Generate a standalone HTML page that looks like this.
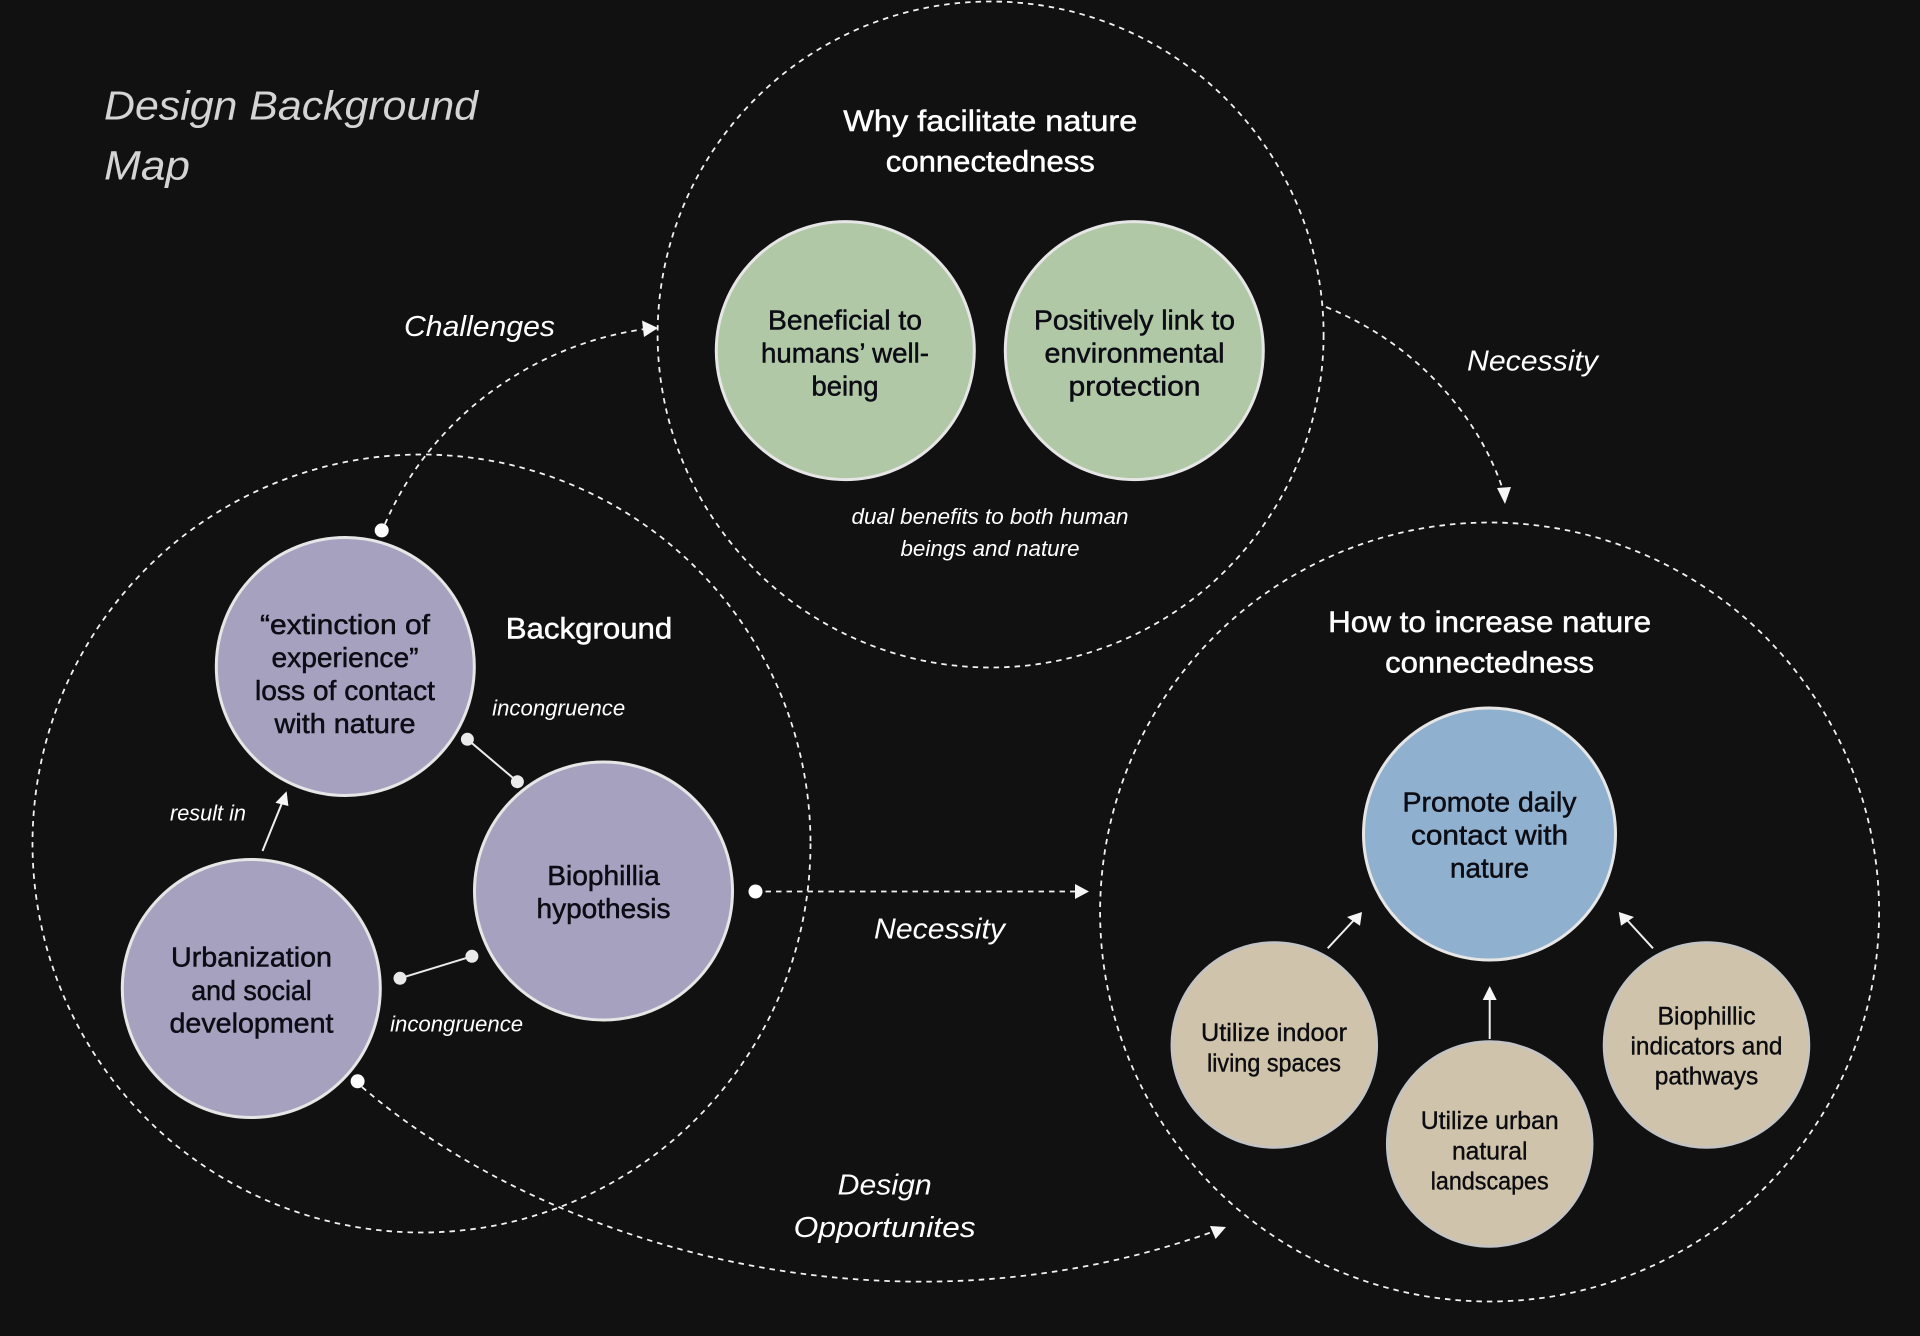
<!DOCTYPE html>
<html>
<head>
<meta charset="utf-8">
<style>
html,body{margin:0;padding:0;background:#111112;}
svg{display:block;}
text{font-family:"Liberation Sans",sans-serif;text-anchor:middle;}
.t{fill:#fff;font-size:30px;stroke:#fff;stroke-width:.5px;}
.n{fill:#0c0c14;font-size:28px;stroke:#0c0c14;stroke-width:.5px;}
.b{fill:#0c0c10;font-size:25px;stroke:#0c0c10;stroke-width:.4px;}
.i{fill:#fff;font-style:italic;font-size:29px;}
.s{fill:#fff;font-style:italic;font-size:22px;}
.h{fill:#d4d4d4;font-style:italic;font-size:41px;text-anchor:start;}
.d{fill:none;stroke:#f2f2f2;stroke-width:1.8;stroke-dasharray:5.5 5;}
.l{fill:none;stroke:#efefef;stroke-width:2;}
.a{fill:#f6f6f6;}
</style>
</head>
<body>
<svg width="1920" height="1336" viewBox="0 0 1920 1336" xmlns="http://www.w3.org/2000/svg">
<rect width="1920" height="1336" fill="#111112"/>

<circle class="d" cx="421.5" cy="843.5" r="389"/>
<circle class="d" cx="990.6" cy="334.5" r="333"/>
<circle class="d" cx="1489.6" cy="912" r="389.5"/>

<g stroke="#e6e6e6" stroke-width="3">
<circle cx="845.3" cy="350.6" r="129" fill="#b0c8a6"/>
<circle cx="1134.3" cy="350.6" r="129" fill="#b0c8a6"/>
<circle cx="345.3" cy="666.5" r="129" fill="#a6a1bf"/>
<circle cx="603.5" cy="891" r="129" fill="#a6a1bf"/>
<circle cx="251.3" cy="988.5" r="129" fill="#a6a1bf"/>
<circle cx="1489.5" cy="834" r="126" fill="#8fb0ce"/>
</g>
<g stroke="#c4c4c4" stroke-width="2.5">
<circle cx="1274.3" cy="1045" r="102.5" fill="#cfc4ab"/>
<circle cx="1489.7" cy="1144" r="102.5" fill="#cfc4ab"/>
<circle cx="1706.5" cy="1045" r="102.5" fill="#cfc4ab"/>
</g>

<!-- connectors -->
<path class="d" d="M385 524 C430 420 530 345 645 329"/>
<polygon class="a" points="658,328 642,320.5 644,337"/>
<circle cx="381.7" cy="530.4" r="7" fill="#fff"/>

<path class="d" d="M1326 307 C1420 345 1480 420 1503 490"/>
<polygon class="a" points="1505,504 1497,488 1511,487"/>

<path class="d" d="M755 891.5 L1076 891.5"/>
<polygon class="a" points="1089,891.5 1075,884 1075,899"/>
<circle cx="755.5" cy="891.5" r="7" fill="#fff"/>

<path class="d" d="M362 1087 C540 1240 880 1350 1212 1232"/>
<polygon class="a" points="1226,1227 1210,1226 1215.6,1239"/>
<circle cx="357.6" cy="1081.3" r="7" fill="#fff"/>

<g stroke="#eaeaea" stroke-width="2" fill="#eaeaea">
<line x1="467.4" y1="739.3" x2="517.4" y2="781.7"/>
<circle cx="467.4" cy="739.3" r="6.5" stroke="none"/>
<circle cx="517.4" cy="781.7" r="6.5" stroke="none"/>
<line x1="400" y1="978.3" x2="471.9" y2="956.3"/>
<circle cx="400" cy="978.3" r="6.5" stroke="none"/>
<circle cx="471.9" cy="956.3" r="6.5" stroke="none"/>
</g>

<line class="l" x1="262.5" y1="851" x2="282" y2="803"/>
<polygon class="a" points="286.6,791.3 275.4,802.7 288.4,806"/>
<line class="l" x1="1327.7" y1="948.3" x2="1354" y2="920"/>
<polygon class="a" points="1362,912 1347,917 1360,925.7"/>
<line class="l" x1="1653" y1="948.3" x2="1627" y2="920"/>
<polygon class="a" points="1618.8,912 1634,917 1621,925.7"/>
<line class="l" x1="1489.7" y1="1039" x2="1489.7" y2="998"/>
<polygon class="a" points="1489.7,986 1482.7,1000 1496.7,1000"/>

<!-- title -->
<text class="h" x="104" y="119.5" textLength="374" lengthAdjust="spacingAndGlyphs">Design Background</text>
<text class="h" x="104" y="179.5" textLength="86" lengthAdjust="spacingAndGlyphs">Map</text>

<!-- italic labels -->
<text class="i" x="479.5" y="336" textLength="151" lengthAdjust="spacingAndGlyphs">Challenges</text>
<text class="i" x="1532.5" y="370.5" textLength="131" lengthAdjust="spacingAndGlyphs">Necessity</text>
<text class="i" x="939.5" y="938.5" textLength="131" lengthAdjust="spacingAndGlyphs">Necessity</text>
<text class="i" x="884.7" y="1194.5" textLength="94" lengthAdjust="spacingAndGlyphs">Design</text>
<text class="i" x="884.7" y="1237" textLength="182" lengthAdjust="spacingAndGlyphs">Opportunites</text>

<text class="s" x="990" y="524" textLength="277" lengthAdjust="spacingAndGlyphs">dual benefits to both human</text>
<text class="s" x="990" y="556" textLength="179" lengthAdjust="spacingAndGlyphs">beings and nature</text>
<text class="s" x="558.7" y="715.5" textLength="133" lengthAdjust="spacingAndGlyphs">incongruence</text>
<text class="s" x="456.6" y="1031.5" textLength="133" lengthAdjust="spacingAndGlyphs">incongruence</text>
<text class="s" x="208" y="820.7" textLength="76" lengthAdjust="spacingAndGlyphs">result in</text>

<!-- headings -->
<text class="t" x="990.3" y="131" textLength="294" lengthAdjust="spacingAndGlyphs">Why facilitate nature</text>
<text class="t" x="990.3" y="171.5" textLength="209" lengthAdjust="spacingAndGlyphs">connectedness</text>
<text class="t" x="589" y="638.5" textLength="166.5" lengthAdjust="spacingAndGlyphs">Background</text>
<text class="t" x="1489.6" y="632" textLength="323" lengthAdjust="spacingAndGlyphs">How to increase nature</text>
<text class="t" x="1489.6" y="672.5" textLength="209" lengthAdjust="spacingAndGlyphs">connectedness</text>

<!-- node text -->
<text class="n" x="845" y="329.5" textLength="154" lengthAdjust="spacingAndGlyphs">Beneficial to</text>
<text class="n" x="845" y="362.5" textLength="168" lengthAdjust="spacingAndGlyphs">humans’ well-</text>
<text class="n" x="845" y="395.5" textLength="67" lengthAdjust="spacingAndGlyphs">being</text>

<text class="n" x="1134.5" y="329.5" textLength="201" lengthAdjust="spacingAndGlyphs">Positively link to</text>
<text class="n" x="1134.5" y="362.5" textLength="180" lengthAdjust="spacingAndGlyphs">environmental</text>
<text class="n" x="1134.5" y="395.5" textLength="132" lengthAdjust="spacingAndGlyphs">protection</text>

<text class="n" x="345" y="634" textLength="170" lengthAdjust="spacingAndGlyphs">“extinction of</text>
<text class="n" x="345" y="667" textLength="147" lengthAdjust="spacingAndGlyphs">experience”</text>
<text class="n" x="345" y="700" textLength="180" lengthAdjust="spacingAndGlyphs">loss of contact</text>
<text class="n" x="345" y="733" textLength="141" lengthAdjust="spacingAndGlyphs">with nature</text>

<text class="n" x="603.5" y="885" textLength="112.5" lengthAdjust="spacingAndGlyphs">Biophillia</text>
<text class="n" x="603.5" y="918" textLength="134" lengthAdjust="spacingAndGlyphs">hypothesis</text>

<text class="n" x="251.5" y="966.5" textLength="161" lengthAdjust="spacingAndGlyphs">Urbanization</text>
<text class="n" x="251.5" y="999.8" textLength="120.5" lengthAdjust="spacingAndGlyphs">and social</text>
<text class="n" x="251.5" y="1032.5" textLength="164" lengthAdjust="spacingAndGlyphs">development</text>

<text class="n" x="1489.5" y="811.5" textLength="174" lengthAdjust="spacingAndGlyphs">Promote daily</text>
<text class="n" x="1489.5" y="844.5" textLength="157" lengthAdjust="spacingAndGlyphs">contact with</text>
<text class="n" x="1489.5" y="877.5" textLength="79" lengthAdjust="spacingAndGlyphs">nature</text>

<text class="b" x="1274" y="1041" textLength="146" lengthAdjust="spacingAndGlyphs">Utilize indoor</text>
<text class="b" x="1274" y="1071.5" textLength="134" lengthAdjust="spacingAndGlyphs">living spaces</text>

<text class="b" x="1489.7" y="1129" textLength="138" lengthAdjust="spacingAndGlyphs">Utilize urban</text>
<text class="b" x="1489.7" y="1159.5" textLength="75.5" lengthAdjust="spacingAndGlyphs">natural</text>
<text class="b" x="1489.7" y="1189.5" textLength="118" lengthAdjust="spacingAndGlyphs">landscapes</text>

<text class="b" x="1706.5" y="1024.5" textLength="98" lengthAdjust="spacingAndGlyphs">Biophillic</text>
<text class="b" x="1706.5" y="1054.5" textLength="152" lengthAdjust="spacingAndGlyphs">indicators and</text>
<text class="b" x="1706.5" y="1084.5" textLength="103.5" lengthAdjust="spacingAndGlyphs">pathways</text>
</svg>
</body>
</html>
